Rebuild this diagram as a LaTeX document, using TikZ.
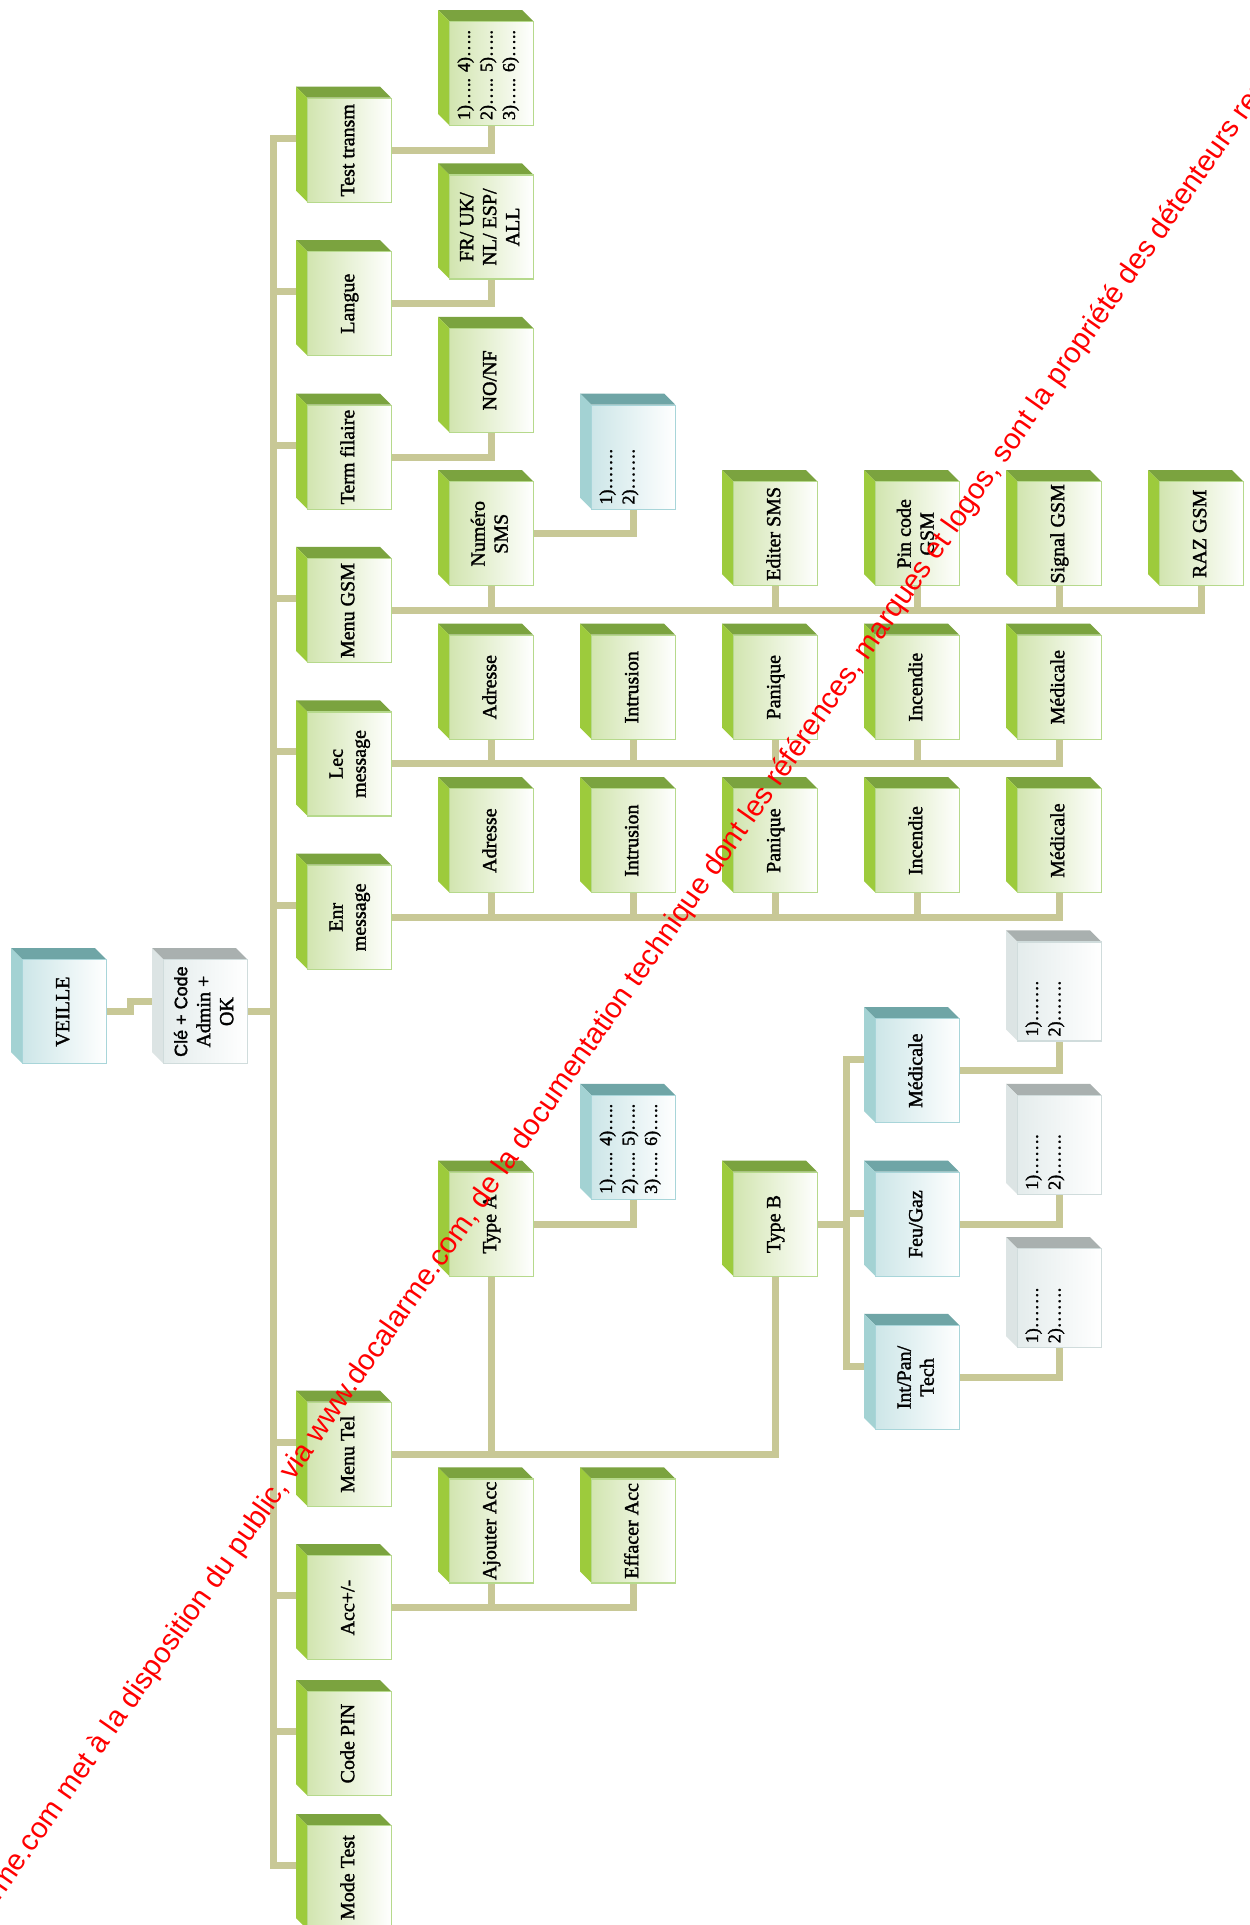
\documentclass[tikz,border=0pt]{standalone}
\usepackage{fontspec}
\setmainfont{Liberation Serif}
\newfontfamily\heavyserif[FakeBold=1.6]{Liberation Serif}
\newfontfamily\wmfont{Liberation Sans}
\newfontfamily\sansf[FakeBold=1.6]{Liberation Sans}
\usetikzlibrary{calc}
\definecolor{gTop}{HTML}{7BA33F}
\definecolor{gSide}{HTML}{9DCB3C}
\definecolor{gFront}{HTML}{D2E5B0}
\definecolor{gBord}{HTML}{B6D98C}
\definecolor{tTop}{HTML}{6FA5A6}
\definecolor{tSide}{HTML}{A3D2D3}
\definecolor{tFront}{HTML}{CDE6E8}
\definecolor{tBord}{HTML}{A8D5D9}
\definecolor{sTop}{HTML}{A9B0AF}
\definecolor{sSide}{HTML}{DCE4E4}
\definecolor{sFront}{HTML}{E4ECEC}
\definecolor{sBord}{HTML}{D0DCDC}
\definecolor{connC}{HTML}{C8C896}
\pgfdeclarelayer{bg}\pgfdeclarelayer{fg}\pgfsetlayers{bg,main,fg}
\newcommand\boxfont{\heavyserif\fontsize{20}{23}\selectfont}
\newcommand\listfont{\heavyserif\fontsize{18}{22.5}\selectfont}
\newcommand\rt[1]{\rotatebox{90}{\begin{tabular}{@{}c@{}}#1\end{tabular}}}
\newcommand\lt[1]{\rotatebox{90}{\begin{tabular}{@{}l@{}}#1\end{tabular}}}
\tikzset{
 gtop/.style={fill=gTop}, gside/.style={fill=gSide},
 gfront/.style={draw=gBord, left color=gFront, right color=white},
 ttop/.style={fill=tTop}, tside/.style={fill=tSide},
 tfront/.style={draw=tBord, left color=tFront, right color=white},
 stop/.style={fill=sTop}, sside/.style={fill=sSide},
 sfront/.style={draw=sBord, left color=sFront, right color=white},
 frontbox/.style={line width=1.2pt, minimum width=84pt, inner sep=0pt, font=\boxfont, text=black},
 conn/.style={draw=connC, line width=7pt},
 listtext/.style={anchor=south west, inner sep=0pt, font=\listfont},
 wm/.style={text=red, font=\wmfont\fontsize{29.2}{29.2}\selectfont, inner sep=0pt}
}
% #1 height, #2 scheme, #3 name, #4 x, #5 y, #6 text
\newcommand\cube[6][115]{%
 \fill[#2top] (#4,#5) -- ++(84,0) -- ++(11,11) -- ++(-84,0) -- cycle;
 \fill[#2side] (#4,#5) -- ++(11,11) -- ++(0,#1-11) -- ++(-11,-11) -- cycle;
 \node[frontbox, #2front, minimum height={(#1-11)*1pt}, anchor=north west] (#3) at (#4+11,#5+11) {#6};
}
\begin{document}
\begin{tikzpicture}[x=1pt,y=-1pt]
\useasboundingbox (0,0) rectangle (1250,1925);
\begin{pgfonlayer}{bg}
\fill[white] (0,0) rectangle (1250,1925);
\end{pgfonlayer}
\clip (0,0) rectangle (1250,1925);
% root
\cube{t}{veille}{11}{948}{\rt{VEILLE}}
\cube{s}{cle}{152}{948}{\rt{\sansf\fontsize{18}{22}\selectfont Clé + Code\\Admin +\\OK}}
% column 1
\cube{g}{tt}{296}{86.7}{\rt{Test transm}}
\cube{g}{langue}{296}{240.1}{\rt{Langue}}
\cube{g}{term}{296}{393.5}{\rt{Term filaire}}
\cube{g}{gsm}{296}{546.9}{\rt{Menu GSM}}
\cube{g}{lec}{296}{700.3}{\rt{Lec\\message}}
\cube{g}{enr}{296}{853.7}{\rt{Enr\\message}}
\cube{g}{mtel}{296}{1390.6}{\rt{Menu Tel}}
\cube{g}{acc}{296}{1544}{\rt{Acc+/-}}
\cube{g}{pin}{296}{1680}{\rt{Code PIN}}
\cube{g}{mode}{296}{1814}{\rt{Mode Test}}
% column 2
\cube{g}{ttc}{438}{10}{}
\node[listtext] (ttc-t) at ([shift={(5,-6)}]ttc.south west) {\lt{1)….. 4)…..\\2)….. 5)…..\\3)….. 6)…..}};
\cube{g}{fr}{438}{163.4}{\rt{FR/ UK/\\NL/ ESP/\\ALL}}
\cube{g}{nonf}{438}{316.8}{\rt{NO/NF}}
\cube{g}{num}{438}{470.2}{\rt{Numéro\\SMS}}
\cube{g}{adrA}{438}{623.6}{\rt{Adresse}}
\cube{g}{adrB}{438}{777}{\rt{Adresse}}
\cube{g}{typeA}{438}{1160.5}{\rt{Type A}}
\cube{g}{ajout}{438}{1467.3}{\rt{Ajouter Acc}}
% column 3
\cube{t}{smsl}{580}{393.5}{}
\node[listtext] (smsl-t) at ([shift={(5,-5)}]smsl.south west) {\lt{1)…….\\2)…….}};
\cube{g}{intA}{580}{623.6}{\rt{Intrusion}}
\cube{g}{intB}{580}{777}{\rt{Intrusion}}
\cube{t}{tAl}{580}{1083.8}{}
\node[listtext] (tAl-t) at ([shift={(5,-6)}]tAl.south west) {\lt{1)….. 4)…..\\2)….. 5)…..\\3)….. 6)…..}};
\cube{g}{eff}{580}{1467.3}{\rt{Effacer Acc}}
% column 4
\cube{g}{edit}{722}{470.2}{\rt{Editer SMS}}
\cube{g}{panA}{722}{623.6}{\rt{Panique}}
\cube{g}{panB}{722}{777}{\rt{Panique}}
\cube{g}{typeB}{722}{1160.5}{\rt{Type B}}
% column 5
\cube{g}{pinc}{864}{470.2}{\rt{Pin code\\GSM}}
\cube{g}{incA}{864}{623.6}{\rt{Incendie}}
\cube{g}{incB}{864}{777}{\rt{Incendie}}
\cube{t}{medt}{864}{1007.1}{\rt{Médicale}}
\cube{t}{feu}{864}{1160.5}{\rt{Feu/Gaz}}
\cube{t}{intp}{864}{1313.9}{\rt{Int/Pan/\\Tech}}
% column 6
\cube{g}{sig}{1006}{470.2}{\rt{Signal GSM}}
\cube{g}{medA}{1006}{623.6}{\rt{Médicale}}
\cube{g}{medB}{1006}{777}{\rt{Médicale}}
\cube[110]{s}{gr1}{1006}{930.4}{}
\node[listtext] (gr1-t) at ([shift={(5,-5)}]gr1.south west) {\lt{1)…….\\2)…….}};
\cube[110]{s}{gr2}{1006}{1083.8}{}
\node[listtext] (gr2-t) at ([shift={(5,-5)}]gr2.south west) {\lt{1)…….\\2)…….}};
\cube[110]{s}{gr3}{1006}{1237.2}{}
\node[listtext] (gr3-t) at ([shift={(5,-5)}]gr3.south west) {\lt{1)…….\\2)…….}};
% column 7
\cube{g}{raz}{1148}{470.2}{\rt{RAZ GSM}}
% connectors
\begin{pgfonlayer}{bg}
\draw[conn] (veille.east) -- ++(23,0) |- ([shift={(-11,-10)}]cle.west);
\foreach \n in {tt,langue,term,gsm,lec,enr,mtel,acc,pin,mode}
  \draw[conn] (cle.east) -| ([shift={(-34,-12)}]\n.west) -- ([shift={(-11,-12)}]\n.west);
\draw[conn] (tt.east) -| (ttc.south);
\draw[conn] (langue.east) -| (fr.south);
\draw[conn] (term.east) -| (nonf.south);
\foreach \n in {num,edit,pinc,sig,raz} \draw[conn] (gsm.east) -| (\n.south);
\draw[conn] (num.east) -| (smsl.south);
\foreach \n in {adrA,intA,panA,incA,medA} \draw[conn] (lec.east) -| (\n.south);
\foreach \n in {adrB,intB,panB,incB,medB} \draw[conn] (enr.east) -| (\n.south);
\draw[conn] (mtel.east) -| (typeA.south);
\draw[conn] (mtel.east) -| (typeB.south);
\draw[conn] (typeA.east) -| (tAl.south);
\foreach \n in {medt,feu,intp} \draw[conn] (typeB.east) -- ++(28,0) |- ([shift={(-11,-11)}]\n.west);
\draw[conn] (medt.east) -| (gr1.south);
\draw[conn] (feu.east) -| (gr2.south);
\draw[conn] (intp.east) -| (gr3.south);
\foreach \n in {ajout,eff} \draw[conn] (acc.east) -| (\n.south);
\end{pgfonlayer}
% watermark
\begin{pgfonlayer}{fg}
\node[wm, rotate=55, anchor=base west] (wm) at (-50,1972) {docalarme.com met à la disposition du public, via www.docalarme.com, de la documentation technique dont les références, marques et logos, sont la propriété des détenteurs respectifs};
\end{pgfonlayer}
\end{tikzpicture}
\end{document}
